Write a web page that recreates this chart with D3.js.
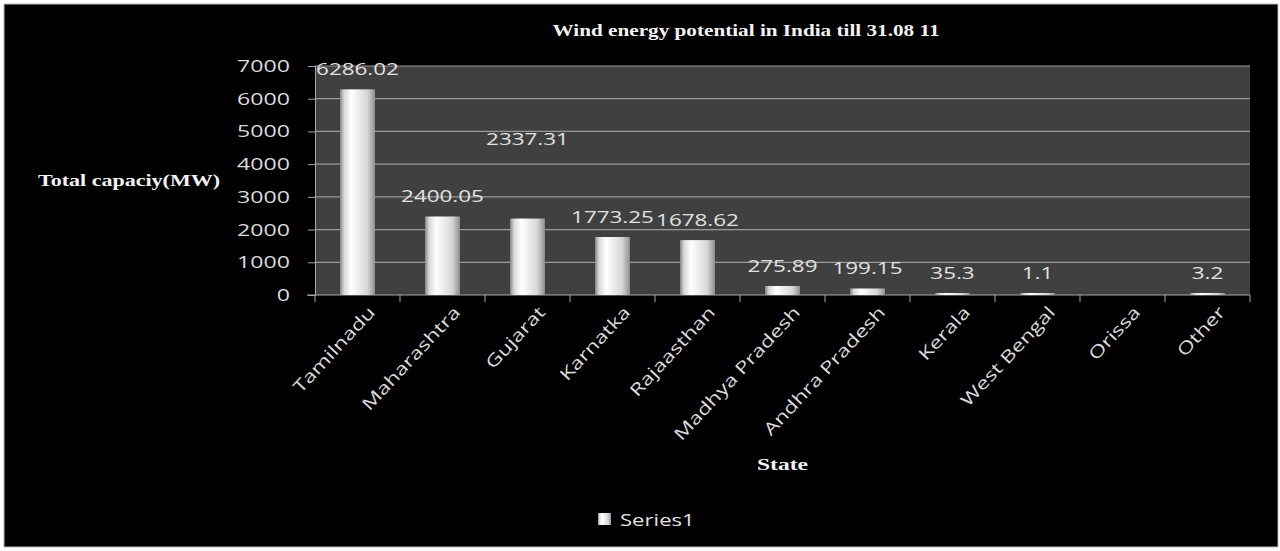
<!DOCTYPE html>
<html>
<head>
<meta charset="utf-8">
<script src="https://cdn.jsdelivr.net/npm/d3@7"></script>
<style>
  html, body { margin: 0; padding: 0; background: #fff; }
  svg { display: block; }
</style>
</head>
<body>
<div id="chart"></div>
<script>
// Wind energy potential bar chart
const states = ["Tamilnadu", "Maharashtra", "Gujarat", "Karnatka", "Rajaasthan",
  "Madhya Pradesh", "Andhra Pradesh", "Kerala", "West Bengal", "Orissa", "Other"];
const capacity = [6286.02, 2400.05, 2337.31, 1773.25, 1678.62, 275.89, 199.15, 35.3, 1.1, null, 3.2];
const yTicks = [0, 1000, 2000, 3000, 4000, 5000, 6000, 7000];

const width = 1280, height = 551;
const plot = { left: 315, right: 1250, top: 66, bottom: 295 };

const svg = d3.select("#chart").append("svg")
  .attr("width", width)
  .attr("height", height);

// stretch text horizontally like the original (wide, blurry export)
function stretch(sel, k) {
  sel.each(function() {
    const len = this.getComputedTextLength();
    d3.select(this).attr("textLength", len * k).attr("lengthAdjust", "spacingAndGlyphs");
  });
}

const defs = svg.append("defs");
const grad = defs.append("linearGradient").attr("id", "barGrad")
  .attr("x1", "0%").attr("x2", "100%").attr("y1", "0%").attr("y2", "0%");
grad.append("stop").attr("offset", "0%").attr("stop-color", "#8a8a8a");
grad.append("stop").attr("offset", "12%").attr("stop-color", "#dadada");
grad.append("stop").attr("offset", "32%").attr("stop-color", "#ffffff");
grad.append("stop").attr("offset", "78%").attr("stop-color", "#d6d6d6");
grad.append("stop").attr("offset", "100%").attr("stop-color", "#909090");

// black frame
svg.append("rect")
  .attr("x", 4).attr("y", 4)
  .attr("width", 1274).attr("height", 543)
  .attr("fill", "#000")
  .attr("stroke", "#bbb")
  .attr("stroke-width", 1);

const x = d3.scaleBand()
  .domain(states)
  .range([plot.left, plot.right])
  .padding(0);

const y = d3.scaleLinear()
  .domain([0, 7000])
  .range([plot.bottom, plot.top]);

// plot background
svg.append("rect")
  .attr("x", plot.left).attr("y", plot.top)
  .attr("width", plot.right - plot.left)
  .attr("height", plot.bottom - plot.top)
  .attr("fill", "#404040");

// gridlines
svg.append("g")
  .selectAll("line")
  .data(yTicks.filter(d => d > 0))
  .enter().append("line")
  .attr("x1", plot.left).attr("x2", plot.right)
  .attr("y1", d => y(d)).attr("y2", d => y(d))
  .attr("stroke", "#9a9a9a")
  .attr("stroke-width", 1.2);

// y axis
const yAxis = svg.append("g")
  .attr("transform", `translate(${plot.left},0)`)
  .call(d3.axisLeft(y).tickValues(yTicks).tickFormat(d3.format("d")).tickSize(7).tickPadding(18));
yAxis.select(".domain").attr("stroke", "#a8a8a8");
yAxis.selectAll(".tick line").attr("stroke", "#a8a8a8");
yAxis.selectAll("text")
  .attr("fill", "#dcdcdc")
  .style("font-family", "'Open Sans', sans-serif")
  .style("font-size", "17px")
  .call(stretch, 1.36);

// x axis
svg.append("line")
  .attr("x1", plot.left - 8).attr("x2", plot.right)
  .attr("y1", plot.bottom).attr("y2", plot.bottom)
  .attr("stroke", "#a8a8a8");
svg.append("g")
  .selectAll("line")
  .data(d3.range(states.length + 1))
  .enter().append("line")
  .attr("x1", i => plot.left + i * x.bandwidth())
  .attr("x2", i => plot.left + i * x.bandwidth())
  .attr("y1", plot.bottom).attr("y2", plot.bottom + 7)
  .attr("stroke", "#a8a8a8");

// category labels, rotated
svg.append("g")
  .selectAll("text")
  .data(states)
  .enter().append("text")
  .attr("transform", d => `translate(${x(d) + x.bandwidth() / 2 + 10},${plot.bottom + 10}) rotate(-47)`)
  .attr("text-anchor", "end")
  .attr("dy", "0.7em")
  .attr("fill", "#dcdcdc")
  .style("font-family", "'Open Sans', sans-serif")
  .style("font-size", "17px")
  .text(d => d)
  .call(stretch, 1.32);

// bars
const barW = x.bandwidth() * 0.41;
const barData = states.map((s, i) => ({ state: s, value: capacity[i] }));

svg.append("g")
  .selectAll("rect")
  .data(barData.filter(d => d.value != null))
  .enter().append("rect")
  .attr("x", d => x(d.state) + (x.bandwidth() - barW) / 2)
  .attr("y", d => Math.min(y(d.value), plot.bottom - 2))
  .attr("width", barW)
  .attr("height", d => Math.max(plot.bottom - y(d.value), 2))
  .attr("fill", "url(#barGrad)");

// value labels (Gujarat's label sits higher in the original)
const liftedLabel = { "Gujarat": 60 };
svg.append("g")
  .selectAll("text")
  .data(barData.filter(d => d.value != null))
  .enter().append("text")
  .attr("x", d => x(d.state) + x.bandwidth() / 2)
  .attr("y", d => Math.min(y(d.value), plot.bottom - 2) - 14 - (liftedLabel[d.state] || 0))
  .attr("text-anchor", "middle")
  .attr("fill", "#e2e2e2")
  .style("font-family", "'Open Sans', sans-serif")
  .style("font-size", "17px")
  .text(d => d.value)
  .call(stretch, 1.32);

// title
svg.append("text")
  .attr("x", 746).attr("y", 36)
  .attr("text-anchor", "middle")
  .attr("fill", "#f2f2f2")
  .style("font-family", "'Liberation Serif', 'Times New Roman', serif")
  .style("font-weight", "bold")
  .style("font-size", "17px")
  .attr("textLength", 387)
  .attr("lengthAdjust", "spacingAndGlyphs")
  .text("Wind energy potential in India till 31.08 11");

// y axis title
svg.append("text")
  .attr("x", 38).attr("y", 186)
  .attr("fill", "#f2f2f2")
  .style("font-family", "'Liberation Serif', 'Times New Roman', serif")
  .style("font-weight", "bold")
  .style("font-size", "16px")
  .attr("textLength", 182)
  .attr("lengthAdjust", "spacingAndGlyphs")
  .text("Total capaciy(MW)");

// x axis title
svg.append("text")
  .attr("x", 757).attr("y", 470)
  .attr("fill", "#f2f2f2")
  .style("font-family", "'Liberation Serif', 'Times New Roman', serif")
  .style("font-weight", "bold")
  .style("font-size", "17px")
  .attr("textLength", 51)
  .attr("lengthAdjust", "spacingAndGlyphs")
  .text("State");

// legend
const legend = svg.append("g").attr("transform", "translate(598,513)");
legend.append("rect")
  .attr("width", 13).attr("height", 12)
  .attr("fill", "url(#barGrad)");
legend.append("text")
  .attr("x", 22).attr("y", 13)
  .attr("fill", "#e2e2e2")
  .style("font-family", "'Open Sans', sans-serif")
  .style("font-size", "17px")
  .text("Series1")
  .call(stretch, 1.3);
</script>
</body>
</html>
